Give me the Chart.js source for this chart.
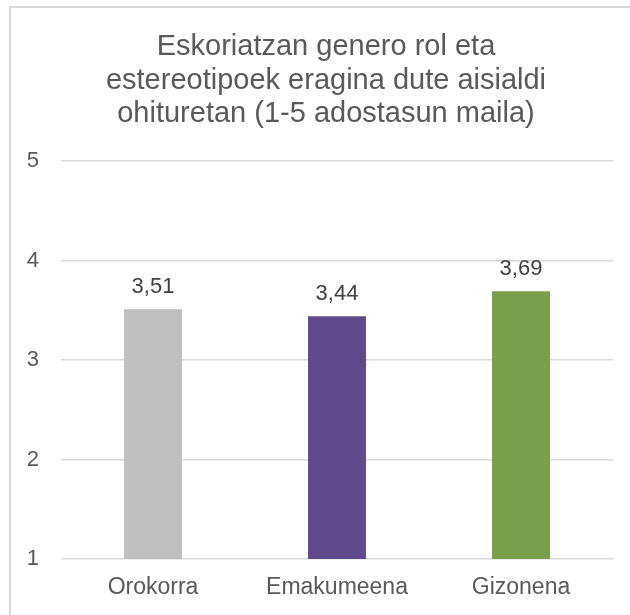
<!DOCTYPE html>
<html>
<head>
<meta charset="utf-8">
<script src="https://cdn.jsdelivr.net/npm/chart.js@4/dist/chart.umd.min.js"></script>
<style>
    body { margin: 0; background: #ffffff; }
    #wrap { position: relative; width: 630px; height: 615px; overflow: hidden; }
    #marco {
        position: absolute; left: 9px; top: 6px; width: 700px; height: 700px;
        border-left: 2px solid #d9d9d9; border-top: 2px solid #d9d9d9;
    }
    #titulo {
        position: absolute; left: 26px; width: 600px; top: 29px;
        text-align: center; white-space: nowrap;
        font-family: "Liberation Sans", Arial, sans-serif;
        font-size: 29px; line-height: 33.5px; color: #595959;
    }
    canvas { position: absolute; left: 0; top: 0; }
</style>
</head>
<body>
<div id="wrap">
    <div id="marco"></div>
    <canvas id="grafica" width="630" height="615"></canvas>
    <div id="titulo">Eskoriatzan genero rol eta<br>estereotipoek eragina dute aisialdi<br>ohituretan (1-5 adostasun maila)</div>
</div>
<script>
// ============================================
// DATOS
// ============================================
const categorias = ['Orokorra', 'Emakumeena', 'Gizonena'];
const valores = [3.51, 3.44, 3.69];
const colores = ['#bfbfbf', '#604a8b', '#799f4c'];
const ejeY = { min: 1, max: 5, paso: 1 };

const fuente = '"Liberation Sans", Arial, sans-serif';

// Etiquetas de valor encima de cada barra (coma decimal)
const etiquetasValor = {
    id: 'etiquetasValor',
    afterDatasetsDraw(chart) {
        const ctx = chart.ctx;
        const meta = chart.getDatasetMeta(0);
        ctx.save();
        ctx.font = '22px ' + fuente;
        ctx.fillStyle = '#404040';
        ctx.textAlign = 'center';
        ctx.textBaseline = 'alphabetic';
        meta.data.forEach((barra, i) => {
            const texto = valores[i].toFixed(2).replace('.', ',');
            ctx.fillText(texto, barra.x, barra.y - 16);
        });
        ctx.restore();
    }
};

// ============================================
// GRAFICA
// ============================================
const ctx = document.getElementById('grafica').getContext('2d');
new Chart(ctx, {
    type: 'bar',
    data: {
        labels: categorias,
        datasets: [{
            data: valores,
            backgroundColor: colores,
            borderWidth: 0,
            barPercentage: 0.315,
            categoryPercentage: 1
        }]
    },
    options: {
        responsive: false,
        animation: false,
        layout: { padding: { top: 161, right: 17, left: 0, bottom: 0 } },
        plugins: {
            legend: { display: false },
            title: { display: false },
            tooltip: { enabled: false }
        },
        scales: {
            x: {
                grid: { display: false, drawTicks: false },
                border: { display: false },
                ticks: { color: '#595959', font: { family: fuente, size: 23 }, padding: 15 },
                afterFit(scale) { scale.height = 56; }
            },
            y: {
                min: ejeY.min,
                max: ejeY.max,
                grid: { color: '#d9d9d9', lineWidth: 1.5, drawTicks: false },
                border: { display: false },
                ticks: { stepSize: ejeY.paso, color: '#595959', font: { family: fuente, size: 22 }, padding: 22 },
                afterFit(scale) { scale.width = 61; }
            }
        }
    },
    plugins: [etiquetasValor]
});
</script>
</body>
</html>
